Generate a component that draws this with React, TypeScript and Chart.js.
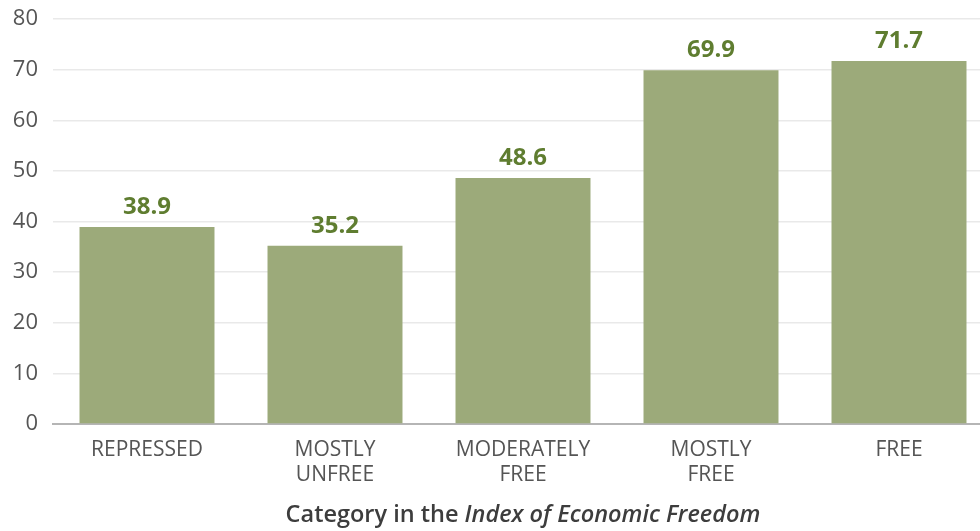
import React, { useEffect, useRef } from "react";
import { Chart, registerables } from "chart.js";

Chart.register(...registerables);

const categories: string[][] = [
  ["REPRESSED"],
  ["MOSTLY", "UNFREE"],
  ["MODERATELY", "FREE"],
  ["MOSTLY", "FREE"],
  ["FREE"],
];
const values: number[] = [38.9, 35.2, 48.6, 69.9, 71.7];
const yTicks: number[] = [0, 10, 20, 30, 40, 50, 60, 70, 80];
const titlePlain = "Category in the ";
const titleItalic = "Index of Economic Freedom";

const FONT = "'Open Sans', 'Noto Sans', sans-serif";

const valueLabelPlugin = {
  id: "valueLabels",
  afterDatasetsDraw(chart: any) {
    const ctx = chart.ctx;
    const meta = chart.getDatasetMeta(0);
    ctx.save();
    ctx.font = `bold 24px ${FONT}`;
    ctx.fillStyle = "#5f7d30";
    ctx.textAlign = "center";
    ctx.textBaseline = "middle";
    meta.data.forEach((bar: any, i: number) => {
      ctx.fillText(values[i].toFixed(1), bar.x, bar.y - 20);
    });
    ctx.restore();
  },
};

const titlePlugin = {
  id: "mixedTitle",
  afterDraw(chart: any) {
    const ctx = chart.ctx;
    const area = chart.chartArea;
    const cx = (area.left + area.right) / 2;
    const y = 515;
    ctx.save();
    const f1 = `600 23.5px ${FONT}`;
    const f2 = `italic 600 23.5px ${FONT}`;
    ctx.font = f1;
    const w1 = ctx.measureText(titlePlain).width;
    ctx.font = f2;
    const w2 = ctx.measureText(titleItalic).width;
    const start = cx - (w1 + w2) / 2;
    ctx.fillStyle = "#3d3d3d";
    ctx.textBaseline = "middle";
    ctx.textAlign = "left";
    ctx.font = f1;
    ctx.fillText(titlePlain, start, y);
    ctx.font = f2;
    ctx.fillText(titleItalic, start + w1, y);
    ctx.restore();
  },
};

export default function App() {
  const ref = useRef<HTMLCanvasElement>(null);

  useEffect(() => {
    document.body.style.margin = "0";
    const canvas = ref.current!;
    const chart = new Chart(canvas, {
      type: "bar",
      data: {
        labels: categories,
        datasets: [
          {
            data: values,
            backgroundColor: "#9caa7a",
            borderWidth: 0,
            categoryPercentage: 1,
            barPercentage: 0.718,
          },
        ],
      },
      options: {
        responsive: false,
        animation: false,
        devicePixelRatio: 1,
        layout: { padding: { top: 19, right: 7, left: 0, bottom: 0 } },
        plugins: {
          legend: { display: false },
          tooltip: { enabled: false },
          title: { display: false },
        },
        scales: {
          x: {
            grid: { display: false, drawTicks: false },
            border: { display: true, color: "#b5b5b5", width: 2 },
            ticks: {
              color: "#555555",
              font: { family: FONT, size: 21, lineHeight: 1.2 },
              padding: 13,
              maxRotation: 0,
              autoSkip: false,
            },
            afterFit(scale: any) {
              scale.height = 107;
              scale.paddingLeft = 0;
              scale.paddingRight = 0;
            },
          },
          y: {
            min: 0,
            max: 80,
            afterBuildTicks(scale: any) {
              scale.ticks = yTicks.map((v) => ({ value: v }));
            },
            grid: { color: "#e9e9e9", lineWidth: 1.5, drawTicks: false },
            border: { display: false },
            ticks: {
              color: "#555555",
              font: { family: FONT, size: 22 },
              padding: 15,
            },
            afterFit(scale: any) {
              scale.width = 53;
              scale.paddingTop = 0;
              scale.paddingBottom = 0;
            },
          },
        },
      },
      plugins: [valueLabelPlugin, titlePlugin],
    });
    return () => chart.destroy();
  }, []);

  return (
    <div
      style={{
        position: "absolute",
        left: 0,
        top: 0,
        width: 980,
        height: 531,
        overflow: "hidden",
        background: "#fff",
      }}
    >
      <canvas ref={ref} width={1000} height={531} style={{ width: 1000, height: 531, display: "block" }} />
    </div>
  );
}
